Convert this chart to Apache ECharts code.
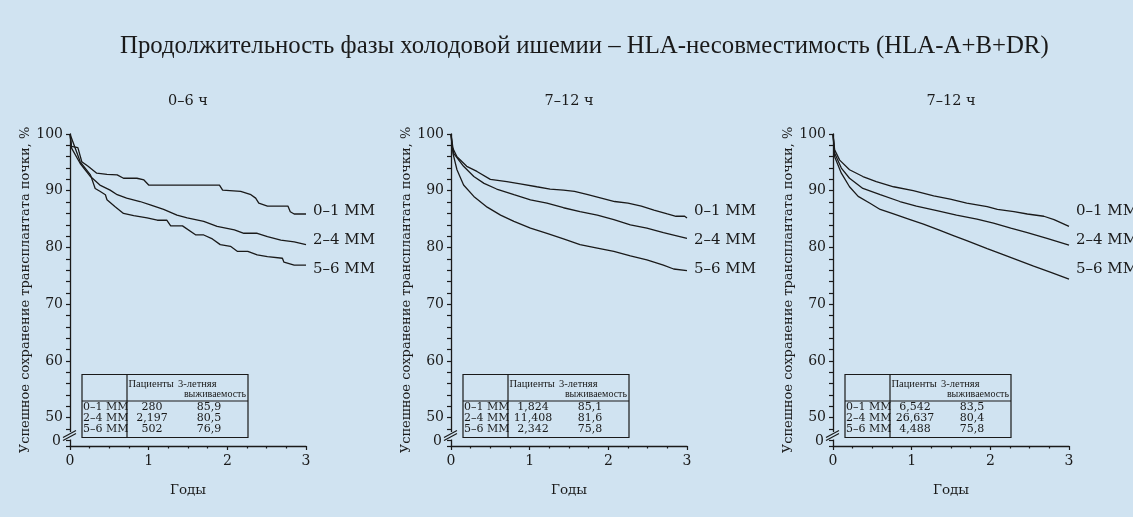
<!DOCTYPE html>
<html><head><meta charset="utf-8">
<script src="https://cdn.jsdelivr.net/npm/echarts@6/dist/echarts.min.js"></script>
<style>html,body{margin:0;padding:0;background:#d0e3f1}#c{width:1133px;height:517px}</style>
</head><body><div id="c"></div>
<script>
// ---------- text ----------
const chartTitle = 'Продолжительность фазы холодовой ишемии – HLA-несовместимость (HLA-A+B+DR)';
const panelTitles = ['0–6 ч', '7–12 ч', '7–12 ч'];
const groupNames = ['0–1 MM', '2–4 MM', '5–6 MM'];
const yAxisName = 'Успешное сохранение трансплантата почки, %';
const xAxisName = 'Годы';
const tableHead = ['Пациенты', '3-летняя', 'выживаемость'];
const yTickLabels = [50, 60, 70, 80, 90, 100];
const yBreakLabel = '0';

// ---------- table values ----------
const patientsP1 = ['280', '2,197', '502'];
const patientsP2 = ['1,824', '11,408', '2,342'];
const patientsP3 = ['6,542', '26,637', '4,488'];
const survivalP1 = ['85,9', '80,5', '76,9'];
const survivalP2 = ['85,1', '81,6', '75,8'];
const survivalP3 = ['83,5', '80,4', '75,8'];

// ---------- curves (years, % graft survival) ----------
const p1mm01T = [0, 0.02, 0.1, 0.15, 0.23, 0.34, 0.47, 0.6, 0.68, 0.85, 0.94, 1.0, 1.9, 1.94, 2.17, 2.3, 2.36, 2.4, 2.51, 2.77, 2.8, 2.85, 3.0];
const p1mm01V = [100, 97.8, 97.6, 95.1, 94.3, 93.1, 92.9, 92.8, 92.2, 92.2, 91.9, 91.0, 91.0, 90.1, 89.9, 89.3, 88.7, 87.8, 87.3, 87.3, 86.3, 85.9, 85.9];
const p1mm24T = [0, 0.02, 0.13, 0.26, 0.38, 0.51, 0.6, 0.72, 0.89, 1.02, 1.19, 1.36, 1.49, 1.7, 1.87, 2.09, 2.21, 2.38, 2.51, 2.68, 2.85, 3.0];
const p1mm24V = [100, 97.5, 94.8, 92.5, 91.0, 90.1, 89.3, 88.7, 88.1, 87.5, 86.7, 85.7, 85.2, 84.6, 83.7, 83.1, 82.5, 82.5, 81.9, 81.3, 81.0, 80.5];
const p1mm56T = [0, 0.13, 0.26, 0.32, 0.38, 0.45, 0.47, 0.57, 0.68, 0.81, 0.98, 1.11, 1.23, 1.28, 1.43, 1.6, 1.7, 1.81, 1.91, 2.04, 2.13, 2.26, 2.38, 2.51, 2.7, 2.72, 2.85, 3.0];
const p1mm56V = [100, 95.1, 92.8, 90.4, 89.9, 89.3, 88.4, 87.2, 86.0, 85.6, 85.2, 84.8, 84.8, 83.8, 83.8, 82.2, 82.2, 81.5, 80.5, 80.2, 79.3, 79.3, 78.7, 78.4, 78.1, 77.4, 76.9, 76.9];

const p2mm01T = [0, 0.013, 0.076, 0.2, 0.33, 0.5, 0.71, 0.88, 1.09, 1.26, 1.43, 1.57, 1.74, 1.91, 2.08, 2.25, 2.42, 2.58, 2.75, 2.86, 2.97, 3.0];
const p2mm01V = [100, 97.8, 96.0, 94.3, 93.4, 92.0, 91.6, 91.2, 90.7, 90.3, 90.1, 89.9, 89.3, 88.7, 88.1, 87.8, 87.3, 86.6, 85.9, 85.5, 85.5, 85.2];
const p2mm24T = [0, 0.034, 0.16, 0.29, 0.42, 0.58, 0.8, 1.01, 1.22, 1.43, 1.64, 1.86, 2.07, 2.28, 2.49, 2.7, 3.0];
const p2mm24V = [100, 96.6, 94.3, 92.5, 91.3, 90.3, 89.3, 88.4, 87.8, 87.0, 86.3, 85.7, 84.9, 84.0, 83.4, 82.6, 81.6];
const p2mm56T = [0, 0.025, 0.076, 0.16, 0.29, 0.46, 0.63, 0.8, 1.01, 1.22, 1.43, 1.64, 1.86, 2.07, 2.28, 2.49, 2.7, 2.83, 3.0];
const p2mm56V = [100, 96.6, 93.7, 91.0, 89.0, 87.1, 85.7, 84.6, 83.4, 82.5, 81.5, 80.5, 79.9, 79.3, 78.5, 77.8, 76.9, 76.2, 75.9];

const p3mm01T = [0, 0.021, 0.085, 0.21, 0.38, 0.55, 0.77, 1.02, 1.28, 1.49, 1.7, 1.96, 2.09, 2.3, 2.47, 2.68, 2.81, 3.0];
const p3mm01V = [100, 97.2, 95.4, 93.7, 92.5, 91.6, 90.7, 90.0, 89.1, 88.5, 87.8, 87.2, 86.7, 86.3, 85.9, 85.5, 84.9, 83.7];
const p3mm24T = [0, 0.021, 0.106, 0.21, 0.38, 0.6, 0.85, 1.06, 1.32, 1.57, 1.83, 2.04, 2.26, 2.47, 2.72, 3.0];
const p3mm24V = [100, 96.6, 94.0, 92.2, 90.4, 89.3, 88.1, 87.3, 86.5, 85.7, 85.0, 84.3, 83.4, 82.6, 81.6, 80.4];
const p3mm56T = [0, 0.021, 0.106, 0.21, 0.32, 0.47, 0.6, 0.77, 0.98, 1.15, 1.36, 1.53, 1.7, 1.96, 2.13, 2.34, 2.55, 2.77, 3.0];
const p3mm56V = [100, 96.0, 93.1, 90.7, 89.0, 87.8, 86.7, 85.9, 84.9, 84.1, 83.0, 82.1, 81.2, 79.8, 78.9, 77.8, 76.7, 75.6, 74.4];

// ---------- layout / style ----------
const BG = '#d0e3f1';
const INK = '#1a1a1a';
const SERIF = 'DejaVu Serif';
const TIMES = 'Liberation Serif';
const GRID_LEFT = [70, 451, 833];
const GRID_TOP = 134, GRID_W = 236, GRID_H = 312;
const LABEL_Y = [211, 240, 269];

const curves = [
  [[p1mm01T, p1mm01V], [p1mm24T, p1mm24V], [p1mm56T, p1mm56V]],
  [[p2mm01T, p2mm01V], [p2mm24T, p2mm24V], [p2mm56T, p2mm56V]],
  [[p3mm01T, p3mm01V], [p3mm24T, p3mm24V], [p3mm56T, p3mm56V]]
];
const patients = [patientsP1, patientsP2, patientsP3];
const survival = [survivalP1, survivalP2, survivalP3];

const zip = (t, v) => t.map((x, i) => [x, v[i]]);

const grids = [], xAxes = [], yAxes = [], series = [], graphics = [];
for (let p = 0; p < 3; p++) {
  const gl = GRID_LEFT[p];
  grids.push({ left: gl, top: GRID_TOP, width: GRID_W, height: GRID_H });
  xAxes.push({
    type: 'value', gridIndex: p, min: 0, max: 3, interval: 1,
    axisLine: { show: true, onZero: false, lineStyle: { color: INK, width: 1.3 } },
    axisTick: { show: true, length: 4, lineStyle: { color: INK, width: 1.2 } },
    minorTick: { show: true, splitNumber: 4, length: 2.5, lineStyle: { color: INK, width: 1.2 } },
    splitLine: { show: false }, minorSplitLine: { show: false },
    axisLabel: { fontFamily: SERIF, fontSize: 14, color: INK, margin: 8 },
    name: xAxisName, nameLocation: 'middle', nameGap: 37,
    nameTextStyle: { fontFamily: SERIF, fontSize: 13.5, color: INK }
  });
  yAxes.push({
    type: 'value', gridIndex: p, min: 45, max: 100, splitNumber: 27, minInterval: 2, maxInterval: 2,
    axisLine: { show: true, onZero: false, lineStyle: { color: INK, width: 1.3 } },
    axisTick: { show: true, length: 4, lineStyle: { color: INK, width: 1.2 } },
    splitLine: { show: false },
    axisLabel: {
      fontFamily: SERIF, fontSize: 14, color: INK, margin: 7,
      formatter: v => (yTickLabels.indexOf(v) >= 0 ? String(v) : '')
    },
    name: yAxisName, nameLocation: 'middle', nameGap: 37,
    nameTextStyle: { fontFamily: SERIF, fontSize: 13, color: INK }
  });
  for (let s = 0; s < 3; s++) {
    series.push({
      type: 'line', xAxisIndex: p, yAxisIndex: p, name: groupNames[s],
      data: zip(curves[p][s][0], curves[p][s][1]),
      showSymbol: false, smooth: false, silent: true,
      lineStyle: { color: INK, width: 1.3 }
    });
    graphics.push({
      type: 'text', x: gl + GRID_W + 7, y: LABEL_Y[s], z: 100,
      style: { text: groupNames[s], font: '15px "DejaVu Serif"', fill: INK, textVerticalAlign: 'middle' }
    });
  }
  // panel subtitle
  graphics.push({
    type: 'text', x: gl + GRID_W / 2, y: 101, z: 100,
    style: { text: panelTitles[p], font: '14.5px "DejaVu Serif"', fill: INK, textAlign: 'center', textVerticalAlign: 'middle' }
  });
  // axis break
  graphics.push({ type: 'rect', z: 100, shape: { x: gl - 2, y: 432, width: 4, height: 7.5 }, style: { fill: BG } });
  graphics.push({ type: 'line', z: 101, shape: { x1: gl - 7, y1: 437.5, x2: gl + 6, y2: 430.5 }, style: { stroke: INK, lineWidth: 1.2 } });
  graphics.push({ type: 'line', z: 101, shape: { x1: gl - 7, y1: 440.5, x2: gl + 6, y2: 433.5 }, style: { stroke: INK, lineWidth: 1.2 } });
  graphics.push({
    type: 'text', x: gl - 9, y: 441, z: 100,
    style: { text: yBreakLabel, font: '14px "DejaVu Serif"', fill: INK, textAlign: 'right', textVerticalAlign: 'middle' }
  });
  // table
  const tx = gl + 12, ty = 374.5, tw = 166, th = 63;
  graphics.push({ type: 'rect', z: 100, shape: { x: tx, y: ty, width: tw, height: th }, style: { fill: 'none', stroke: INK, lineWidth: 1.2 } });
  graphics.push({ type: 'line', z: 100, shape: { x1: gl + 57, y1: ty, x2: gl + 57, y2: ty + th }, style: { stroke: INK, lineWidth: 1.2 } });
  graphics.push({ type: 'line', z: 100, shape: { x1: tx, y1: 401, x2: tx + tw, y2: 401 }, style: { stroke: INK, lineWidth: 1.2 } });
  graphics.push({ type: 'text', x: gl + 58.5, y: 384, z: 100, style: { text: tableHead[0], font: '10.5px "Liberation Serif"', fill: INK, textVerticalAlign: 'middle' } });
  graphics.push({ type: 'text', x: gl + 108, y: 384, z: 100, style: { text: tableHead[1], font: '10.5px "Liberation Serif"', fill: INK, textVerticalAlign: 'middle' } });
  graphics.push({ type: 'text', x: tx + tw - 2, y: 394.5, z: 100, style: { text: tableHead[2], font: '10px "Liberation Serif"', fill: INK, textAlign: 'right', textVerticalAlign: 'middle' } });
  const rowY = [406.7, 418.2, 429.5];
  for (let r = 0; r < 3; r++) {
    graphics.push({ type: 'text', x: tx + 1, y: rowY[r], z: 100, style: { text: groupNames[r], font: '11px "DejaVu Serif"', fill: INK, textVerticalAlign: 'middle' } });
    graphics.push({ type: 'text', x: gl + 82, y: rowY[r], z: 100, style: { text: patients[p][r], font: '11px "DejaVu Serif"', fill: INK, textAlign: 'center', textVerticalAlign: 'middle' } });
    graphics.push({ type: 'text', x: gl + 139, y: rowY[r], z: 100, style: { text: survival[p][r], font: '11px "DejaVu Serif"', fill: INK, textAlign: 'center', textVerticalAlign: 'middle' } });
  }
}

const chart = echarts.init(document.getElementById('c'), null, { renderer: 'canvas' });
chart.setOption({
  backgroundColor: BG,
  animation: false,
  title: {
    text: chartTitle, left: 115, top: 29,
    textStyle: { fontFamily: TIMES, fontSize: 24.8, fontWeight: 'normal', color: INK }
  },
  grid: grids, xAxis: xAxes, yAxis: yAxes, series: series,
  graphic: graphics
});
</script></body></html>
